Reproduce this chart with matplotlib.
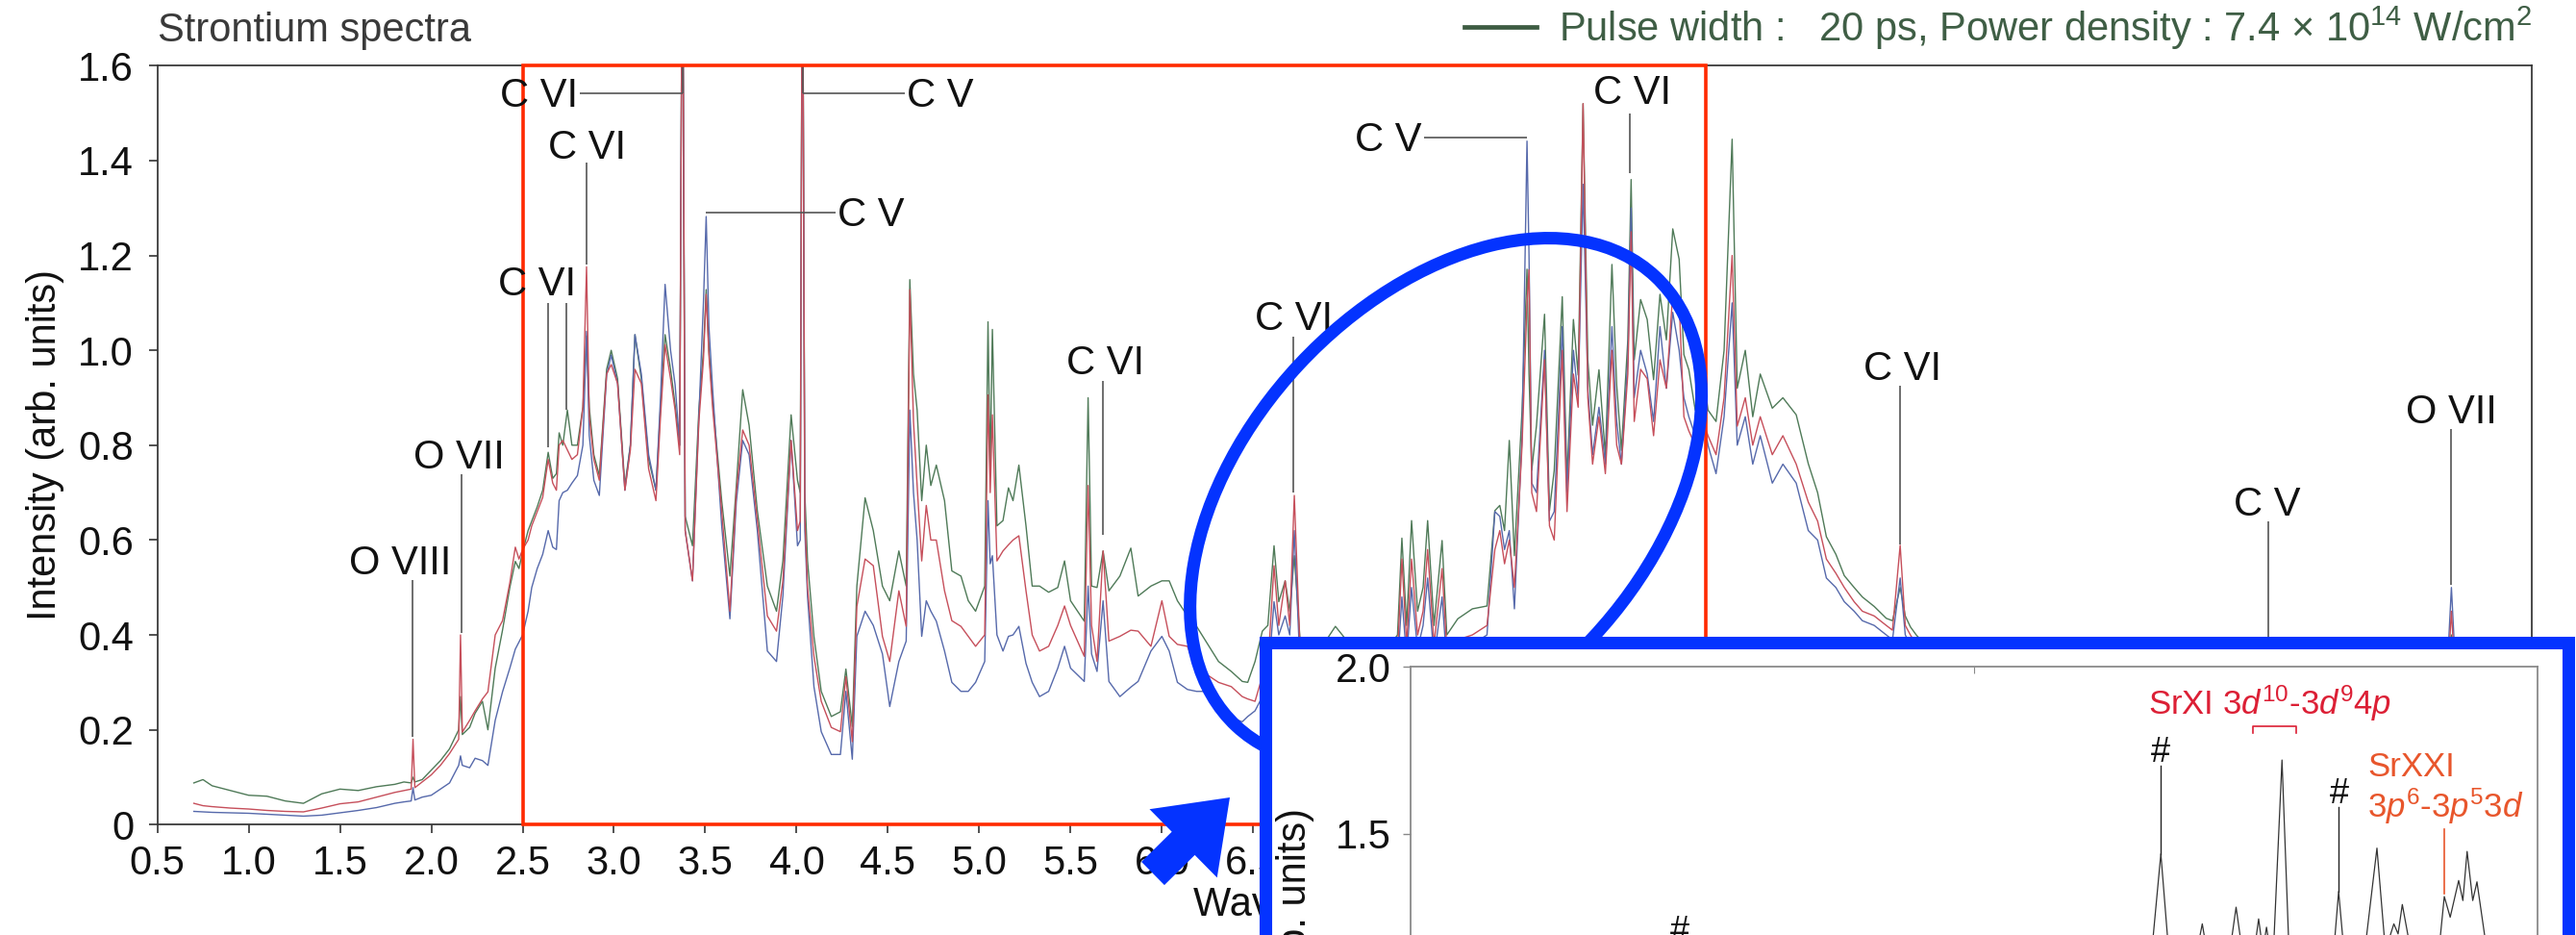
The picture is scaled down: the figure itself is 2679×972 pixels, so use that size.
import matplotlib
matplotlib.use("Agg")
import matplotlib.pyplot as plt
import matplotlib.patches as mpatches
from matplotlib.lines import Line2D
import numpy as np

plt.rcParams['font.family'] = ['Liberation Sans', 'DejaVu Sans']
plt.rcParams['font.size'] = 30
plt.rcParams['mathtext.fontset'] = 'custom'
plt.rcParams['mathtext.rm'] = 'Liberation Sans'
plt.rcParams['mathtext.it'] = 'Liberation Sans:italic'
plt.rcParams['mathtext.bf'] = 'Liberation Sans:bold'

# ---- main spectra (wavelength in nm, intensity arb. units) ----
wavelength = [
    0.70, 0.75, 0.80, 0.90, 1.00, 1.10, 1.20, 1.30, 1.40, 1.50, 1.60, 1.70, 1.80, 1.85, 1.89, 1.90, 1.91,
    1.95, 2.00, 2.05, 2.10, 2.15, 2.16, 2.17, 2.21, 2.24, 2.28, 2.31, 2.35, 2.39, 2.43, 2.46, 2.48, 2.50,
    2.53, 2.55, 2.58, 2.61, 2.64, 2.665, 2.685, 2.70, 2.72, 2.745, 2.77, 2.80, 2.83, 2.85, 2.865, 2.89,
    2.92, 2.96, 2.985, 3.02, 3.06, 3.09, 3.115, 3.15, 3.19, 3.23, 3.255, 3.28, 3.31, 3.335, 3.36, 3.375,
    3.39, 3.43, 3.465, 3.49, 3.505, 3.52, 3.54, 3.59, 3.635, 3.67, 3.705, 3.74, 3.785, 3.84, 3.89, 3.925,
    3.97, 4.005, 4.02, 4.032, 4.045, 4.06, 4.095, 4.135, 4.19, 4.24, 4.27, 4.305, 4.33, 4.375, 4.42, 4.47,
    4.51, 4.56, 4.60, 4.62, 4.64, 4.66, 4.685, 4.71, 4.735, 4.765, 4.81, 4.85, 4.90, 4.94, 4.98, 5.03,
    5.048, 5.06, 5.072, 5.097, 5.13, 5.16, 5.185, 5.217, 5.256, 5.29, 5.33, 5.38, 5.43, 5.467, 5.50, 5.575,
    5.596, 5.615, 5.645, 5.678, 5.71, 5.77, 5.83, 5.87, 5.94, 6.00, 6.04, 6.085, 6.14, 6.19, 6.24, 6.31,
    6.38, 6.44, 6.47, 6.51, 6.55,
    6.58, 6.614, 6.64, 6.675, 6.70, 6.725, 6.76, 6.85, 6.95, 7.05, 7.15, 7.25, 7.29, 7.314, 7.34, 7.367,
    7.40, 7.43, 7.455, 7.49, 7.534, 7.56, 7.62, 7.70, 7.78, 7.823, 7.85, 7.876, 7.902, 7.93, 7.972, 7.999,
    8.01, 8.025, 8.051, 8.095, 8.122, 8.148, 8.192, 8.218, 8.253, 8.279, 8.306, 8.332, 8.358, 8.393, 8.428, 8.464,
    8.49, 8.516, 8.551, 8.569, 8.586, 8.621, 8.657, 8.692, 8.727, 8.762, 8.797, 8.832, 8.858, 8.885, 8.92, 8.955,
    8.99, 9.034, 9.078, 9.122, 9.15, 9.194, 9.235, 9.276, 9.342, 9.40, 9.473, 9.539, 9.59, 9.638, 9.69, 9.736,
    9.79, 9.835, 9.90, 9.966, 10.00, 10.042, 10.07, 10.098, 10.13, 10.30, 10.60, 11.00, 11.50, 12.00, 12.06, 12.12,
    12.60, 13.00, 13.06, 13.12, 13.30,
]

green = [
    .088, .095, .082, .072, .062, .060, .050, .045, .065, .075, .072, .080, .085, .090, .088, .100, .090,
    .095, .115, .135, .160, .200, .270, .190, .205, .235, .260, .200, .330, .410, .500, .555, .540, .575,
    .620, .640, .670, .705, .785, .730, .740, .826, .800, .874, .800, .800, .880, 1.030, .880, .780,
    .736, .960, 1.000, .940, .715, .800, 1.033, .940, .770, .705, .880, 1.033, .960, .885, .800, 2.0,
    .650, .588, .874, 1.000, 1.128, 1.000, .895, .683, .524, .715, .917, .842, .662, .503, .450, .556,
    .864, .726, .700, 2.0, .700, .556, .397, .281, .228, .238, .328, .207, .503, .689, .620, .503,
    .472, .577, .503, 1.149, .950, .874, .683, .800, .715, .758, .683, .535, .524, .472, .450, .503,
    1.060, .750, 1.044, .630, .641, .710, .683, .758, .630, .503, .503, .490, .500, .556, .472, .429,
    .900, .503, .500, .577, .493, .524, .583, .482, .503, .514, .514, .472, .440, .418, .387, .344,
    .323, .302, .300, .344, .408,
    .420, .588, .470, .514, .450, .567, .370, .360, .418, .370, .360, .380, .400, .604, .420, .641,
    .450, .500, .641, .420, .599, .400, .434, .455, .461, .662, .673, .620, .810, .567, .874, 1.171,
    .950, .747, .842, 1.076, .662, .747, 1.113, .726, 1.065, .948, 1.520, .980, .842, .959, .779, 1.181,
    .927, .789, 1.022, 1.360, .980, 1.107, 1.065, .938, 1.118, 1.022, 1.256, 1.192, .991, .959, .874, .980,
    .874, .850, 1.000, 1.445, .920, 1.000, .860, .950, .878, .900, .864, .761, .700, .607, .570, .525,
    .500, .480, .460, .435, .430, .500, .440, .417, .400, .330, .250, .170, .110, .080, .100, .070,
    .060, .055, .400, .060, .055,
]

red = [
    .045, .040, .038, .035, .033, .030, .028, .027, .035, .044, .048, .058, .068, .072, .075, .180, .078,
    .090, .105, .125, .150, .180, .400, .195, .220, .240, .265, .280, .400, .430, .510, .585, .560, .580,
    .600, .630, .660, .690, .770, .720, .705, .800, .810, .790, .770, .780, .880, 1.176, .860, .770,
    .726, .950, .970, .930, .705, .790, .960, .930, .750, .683, .860, 1.012, .940, .874, .780, 2.0,
    .620, .514, .850, .980, 1.118, .990, .880, .662, .450, .700, .832, .800, .641, .440, .408, .514,
    .810, .620, .640, 2.0, .650, .500, .355, .260, .205, .196, .312, .175, .460, .560, .546, .397,
    .344, .493, .418, 1.128, .850, .715, .556, .673, .600, .600, .493, .430, .418, .397, .376, .400,
    .906, .700, .864, .556, .577, .590, .600, .609, .493, .400, .366, .376, .420, .461, .420, .355,
    .715, .420, .344, .577, .387, .397, .410, .408, .376, .472, .397, .380, .376, .323, .318, .300,
    .291, .270, .265, .260, .313,
    .330, .546, .420, .514, .420, .694, .330, .330, .360, .340, .340, .350, .360, .560, .380, .560,
    .400, .450, .580, .380, .540, .370, .390, .400, .420, .580, .620, .550, .600, .500, .800, 1.100,
    1.170, .700, .660, .980, .630, .600, 1.000, .660, .950, .880, 1.520, .900, .760, .860, .740, 1.000,
    .800, .760, .950, 1.250, .850, .960, .940, .820, .980, .920, 1.120, 1.100, .860, .830, .800, .860,
    .820, .780, .900, 1.200, .840, .900, .800, .860, .780, .820, .760, .680, .640, .560, .530, .500,
    .470, .450, .440, .420, .410, .589, .420, .400, .380, .310, .230, .150, .100, .070, .090, .065,
    .055, .050, .450, .050, .050,
]

blue = [
    .028, .027, .026, .025, .024, .022, .020, .018, .020, .025, .030, .036, .045, .048, .050, .078, .052,
    .058, .062, .075, .088, .125, .145, .125, .120, .140, .135, .125, .220, .280, .330, .370, .385, .400,
    .450, .500, .540, .570, .620, .585, .580, .683, .700, .705, .720, .736, .800, 1.040, .820, .726,
    .694, .948, .990, .930, .705, .800, 1.033, .950, .780, .705, .900, 1.139, 1.000, .927, .800, 2.0,
    .620, .514, .860, 1.100, 1.282, 1.050, .920, .630, .434, .680, .810, .780, .620, .366, .344, .482,
    .810, .588, .600, 2.0, .620, .480, .291, .196, .148, .148, .281, .138, .397, .450, .420, .360,
    .249, .344, .387, .874, .700, .600, .397, .472, .450, .429, .366, .300, .281, .281, .300, .344,
    .683, .550, .567, .400, .366, .397, .400, .418, .340, .300, .270, .281, .330, .376, .330, .302,
    .503, .360, .323, .472, .302, .270, .290, .302, .366, .397, .366, .300, .285, .281, .281, .255,
    .225, .217, .228, .240, .270,
    .300, .470, .400, .440, .400, .620, .300, .300, .330, .310, .310, .320, .330, .480, .350, .500,
    .370, .420, .520, .350, .480, .340, .370, .380, .400, .660, .650, .580, .620, .455, .820, 1.441,
    1.200, .720, .700, 1.000, .640, .660, 1.050, .700, 1.000, .900, 1.350, .920, .780, .880, .760, 1.050,
    .850, .760, .980, 1.300, .900, 1.000, .950, .850, 1.050, .920, 1.080, 1.000, .900, .860, .820, .880,
    .800, .740, .860, 1.100, .800, .860, .760, .820, .720, .760, .720, .620, .600, .520, .500, .470,
    .450, .430, .420, .400, .390, .520, .400, .380, .360, .290, .210, .140, .090, .065, .080, .060,
    .050, .045, .500, .045, .045,
]

# ---- inset spectrum (zoom of the circled region) ----
inset_wl = [6.0, 6.5, 6.9, 6.954, 7.0, 7.5, 8.0, 8.5, 8.62, 8.663, 8.70, 8.78, 8.81, 8.84, 8.90, 8.93, 8.96,
            8.99, 9.01, 9.025, 9.038, 9.06, 9.093, 9.12, 9.16, 9.22, 9.27, 9.294, 9.32, 9.38, 9.43, 9.46,
            9.49, 9.505, 9.52, 9.55, 9.60, 9.65, 9.669, 9.69, 9.72, 9.735, 9.75, 9.77, 9.785, 9.82, 9.86,
            9.90, 10.0]
inset_int = [0.90, 0.95, 1.00, 1.15, 1.00, 0.95, 1.00, 1.05, 1.05, 1.44, 1.05, 1.10, 1.23, 1.08, 1.10, 1.28, 1.10,
             1.12, 1.245, 1.15, 1.22, 1.10, 1.721, 1.10, 1.05, 1.10, 1.08, 1.327, 1.08, 1.10, 1.457, 1.15,
             1.23, 1.20, 1.288, 1.15, 1.10, 1.15, 1.312, 1.25, 1.36, 1.30, 1.447, 1.30, 1.356, 1.15, 1.10,
             1.00, 0.95]

xticks = np.arange(0.5, 13.51, 0.5)
yticks = [0, 0.2, 0.4, 0.6, 0.8, 1.0, 1.2, 1.4, 1.6]
ytick_labels = ['0', '0.2', '0.4', '0.6', '0.8', '1.0', '1.2', '1.4', '1.6']

# line identifications: label, text x, text baseline y, alignment
line_labels = ['O VIII', 'O VII', 'C VI', 'C VI', 'C VI', 'C V', 'C V', 'C VI', 'C VI', 'C V', 'C VI',
               'C VI', 'C V', 'O VII']
label_x = [1.832, 2.153, 2.805, 2.852, 2.79, 4.604, 4.225, 5.688, 6.72, 7.24, 8.575, 10.053, 12.05, 13.06]
label_y = [0.528, 0.751, 1.513, 1.404, 1.116, 1.513, 1.261, 0.950, 1.042, 1.421, 1.519, 0.938, 0.652, 0.847]
label_ha = ['center', 'center', 'right', 'center', 'right', 'left', 'left', 'center', 'center', 'center',
            'center', 'center', 'center', 'center']

W, H = 2679, 972
GREEN = '#4f7a58'
RED = '#c64f5b'
BLUE = '#5669ab'
MARK = '#0433ff'
TXT = '#111111'

fig = plt.figure(figsize=(W / 100, H / 100), dpi=100)

# ---------- main axes ----------
ax = fig.add_axes([163.6 / W, 1 - 857.3 / H, (2633 - 163.6) / W, (857.3 - 68.3) / H])
ax.plot(wavelength, green, color=GREEN, lw=1.0, zorder=2)
ax.plot(wavelength, blue, color=BLUE, lw=1.0, zorder=2)
ax.plot(wavelength, red, color=RED, lw=1.0, zorder=2)
ax.set_xlim(0.5, 13.5)
ax.set_ylim(0, 1.6)
ax.set_xticks(xticks)
ax.set_xticklabels(['%.1f' % t for t in xticks])
ax.set_yticks(yticks)
ax.set_yticklabels(ytick_labels)
ax.tick_params(axis='both', direction='out', length=6.7, width=1.2, colors='#333333', labelcolor=TXT)
ax.tick_params(axis='x', pad=8.5)
ax.tick_params(axis='y', pad=11)
for s in ax.spines.values():
    s.set_color('#3a3a3a')
    s.set_linewidth(1.3)
ax.set_xlabel('Wavelength (nm)', labelpad=2, color=TXT)
ax.set_ylabel('Intensity (arb. units)', labelpad=10.5, color=TXT)

# region box
ax.add_patch(mpatches.Rectangle((2.5, 0), 8.98 - 2.5, 1.6, fill=False, ec='#ff2a00', lw=2.6,
                                zorder=4, clip_on=False))

# leader lines
lead = dict(color='#555555', lw=1.2, zorder=3, solid_capstyle='butt')
ax.plot([1.896, 1.896], [0.515, 0.185], **lead)
ax.plot([2.165, 2.165], [0.738, 0.405], **lead)
ax.plot([2.815, 3.377], [1.542, 1.542], **lead)
ax.plot([3.377, 3.377], [1.542, 1.6], **lead)
ax.plot([2.849, 2.849], [1.395, 1.18], **lead)
ax.plot([2.637, 2.637], [1.100, 0.795], **lead)
ax.plot([2.738, 2.738], [1.100, 0.874], **lead)
ax.plot([4.032, 4.595], [1.542, 1.542], **lead)
ax.plot([4.032, 4.032], [1.542, 1.6], **lead)
ax.plot([3.505, 4.215], [1.29, 1.29], **lead)
ax.plot([5.675, 5.675], [0.935, 0.61], **lead)
ax.plot([6.72, 6.72], [1.028, 0.70], **lead)
ax.plot([7.437, 7.999], [1.448, 1.448], **lead)
ax.plot([8.564, 8.564], [1.50, 1.374], **lead)
ax.plot([10.042, 10.042], [0.925, 0.59], **lead)
ax.plot([12.06, 12.06], [0.640, 0.30], **lead)
ax.plot([13.06, 13.06], [0.835, 0.505], **lead)

for lab, x, y, ha in zip(line_labels, label_x, label_y, label_ha):
    ax.text(x, y, lab, ha=ha, va='baseline', color=TXT, fontsize=30, zorder=5)

# titles / legend
fig.text(163.6 / W, 1 - 43.3 / H, 'Strontium spectra', ha='left', va='baseline', color='#3a3a3a', fontsize=30)
handle = Line2D([], [], color='#3d5c42', lw=3.4)
ax.legend([handle], ['Pulse width :   20 ps, Power density : 7.4 \u00d7 10$^{14}$ W/cm$^{2}$'],
          loc='lower right', bbox_to_anchor=(2633 / W, 1 - 53.6 / H), bbox_transform=fig.transFigure,
          frameon=False, handlelength=1.8, handletextpad=0.55, borderpad=0, borderaxespad=0,
          fontsize=30, labelcolor='#3f5e45')

# ---------- overlay: ellipse, arrow, inset frame ----------
ov = fig.add_axes([0, 0, 1, 1], zorder=5)
ov.set_xlim(0, W)
ov.set_ylim(H, 0)
ov.axis('off')
ov.add_patch(mpatches.Ellipse((1503.6, 521.1), 639, 417, angle=-47, fill=False, ec=MARK, lw=9.4, zorder=1))
ov.add_patch(mpatches.Rectangle((1316, 668), 2671 - 1316, 600, fc='white', ec=MARK, lw=9.4, zorder=2))
ov.add_patch(mpatches.FancyArrow(1199, 908, 80, -79, width=34, head_width=100, head_length=68,
                                 length_includes_head=True, color=MARK, lw=0, zorder=3))

# ---------- inset ----------
ins = fig.add_axes([1467 / W, 1 - 1352.5 / H, (2639 - 1467) / W, (1352.5 - 693.3) / H], zorder=6)
ins.patch.set_visible(False)
ins.plot(inset_wl, inset_int, color='#333333', lw=0.9)
ins.set_xlim(6.0, 10.0)
ins.set_ylim(0.1, 2.0)
ins.set_yticks([0.5, 1.0, 1.5, 2.0])
ins.set_yticklabels(['0.5', '1.0', '1.5', '2.0'])
ins.set_xticks([8.0])
ins.tick_params(axis='x', top=True, bottom=False, labelbottom=False, direction='in', length=5, color='#888888')
ins.tick_params(axis='y', direction='out', length=6, width=1.0, color='#888888', pad=8.5, labelcolor=TXT)
for s in ins.spines.values():
    s.set_color('#8a8a8a')
    s.set_linewidth(1.3)
ins.set_ylabel('Intensity (arb. units)', labelpad=16, color=TXT)

SRXI = '#dc1f35'
SRXXI = '#e8562c'
ins.text(8.618, 1.857, 'SrXI 3$d^{10}$-3$d^{9}$4$p$', ha='left', va='baseline', color=SRXI, fontsize=25)
ins.plot([8.989, 8.989, 9.143, 9.143], [1.803, 1.822, 1.822, 1.803], color=SRXI, lw=1.2)
ins.text(9.396, 1.673, 'SrXXI', ha='left', va='baseline', color=SRXXI, fontsize=25)
ins.text(9.396, 1.55, '3$p^{6}$-3$p^{5}$3$d$', ha='left', va='baseline', color=SRXXI, fontsize=25)
ins.plot([9.669, 9.669], [1.514, 1.322], color=SRXXI, lw=1.2)
for hx, hy in [(8.66, 1.716), (9.297, 1.591), (6.954, 1.179)]:
    ins.text(hx, hy, '#', ha='center', va='baseline', color=TXT, fontsize=26)
ins.plot([8.663, 8.663], [1.705, 1.44], color='#222222', lw=1.0)
ins.plot([9.294, 9.294], [1.58, 1.327], color='#222222', lw=1.0)

fig.savefig('out.png', dpi=100)
